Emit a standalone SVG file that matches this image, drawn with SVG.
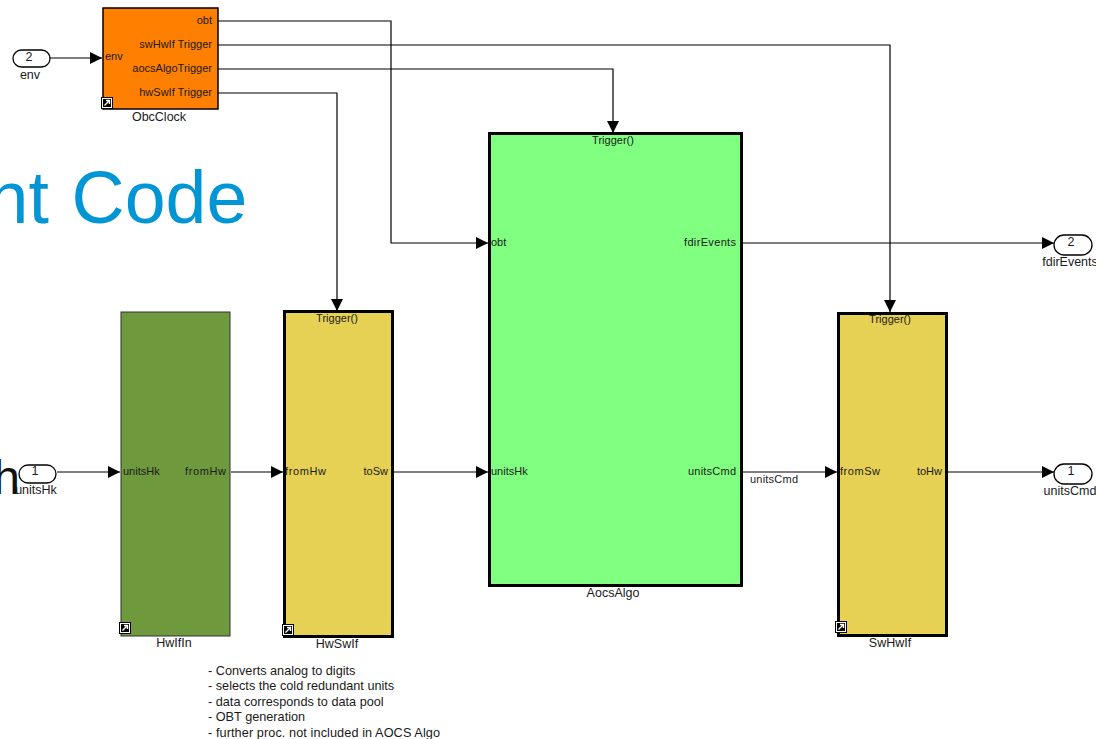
<svg xmlns="http://www.w3.org/2000/svg" width="1096" height="739" viewBox="0 0 1096 739">
<style>
text{font-family:"Liberation Sans",Arial,sans-serif;font-size:11px;fill:#1a1a1a}
.m{text-anchor:middle}.e{text-anchor:end}
.l{font-size:12.500px}
.n{font-size:12.700px}
.w{fill:none;stroke:#000;stroke-width:1.2}
.port{fill:#fff;stroke:#000;stroke-width:1.3}
.b{stroke:#000;stroke-width:3}
.t{stroke:#000;stroke-width:1.5}
.ic{fill:#fff;stroke:#000;stroke-width:1}
</style>
<defs>
<marker id="a" markerUnits="userSpaceOnUse" markerWidth="12" markerHeight="12" refX="12" refY="6" orient="auto"><path d="M0 0L12 6L0 12Z" fill="#000"/></marker>
<g id="link"><rect x="0.500" y="0.500" width="11" height="11" class="ic"/><rect x="2" y="2" width="8" height="8" fill="#000"/><path d="M3.500 8.500L8 4M5 3.500H8.500V7" stroke="#fff" stroke-width="1.400" fill="none"/></g>
</defs>
<text x="-12.500" y="222.500" style="font-size:73.500px;fill:#0096d6">nt <tspan dx="2.400">Code</tspan></text>
<text x="-6.700" y="494" style="font-size:48px;fill:#111">h</text>
<g id="connectors">
<path class="w" d="M50 58H102" marker-end="url(#a)"/>
<path class="w" d="M217 21H391V243H488" marker-end="url(#a)"/>
<path class="w" d="M217 45H890V312" marker-end="url(#a)"/>
<path class="w" d="M217 69H613V133" marker-end="url(#a)"/>
<path class="w" d="M217 93H337V311" marker-end="url(#a)"/>
<path class="w" d="M57 472H120" marker-end="url(#a)"/>
<path class="w" d="M231 472H283" marker-end="url(#a)"/>
<path class="w" d="M393 472H488" marker-end="url(#a)"/>
<path class="w" d="M742 472H837" marker-end="url(#a)"/>
<path class="w" d="M947 472H1054" marker-end="url(#a)"/>
<path class="w" d="M742 243H1054" marker-end="url(#a)"/>
<text x="750" y="483" textLength="48">unitsCmd</text>
</g>
<g id="env"><rect class="port" x="13" y="50" width="37" height="17" rx="8.500"/><text class="m l" x="29" y="61">2</text><text class="m l" x="30" y="79">env</text></g>
<g id="unitsHk"><rect class="port" x="19" y="465" width="37" height="18" rx="9"/><text class="m l" x="35" y="475">1</text><text class="m l" x="36" y="494">unitsHk</text></g>
<g id="fdirEventsOut"><rect class="port" x="1054" y="235" width="38" height="20" rx="10"/><text class="m l" x="1071" y="246">2</text><text class="m l" x="1070" y="266">fdirEvents</text></g>
<g id="unitsCmdOut"><rect class="port" x="1054" y="464" width="38" height="20" rx="10"/><text class="m l" x="1071" y="475">1</text><text class="m l" x="1070" y="495">unitsCmd</text></g>
<g id="ObcClock"><rect class="t" x="103" y="8" width="115" height="101" fill="#ff8000"/><text x="105" y="60">env</text><text class="e" x="212" y="24">obt</text><text class="e" x="212" y="48">swHwIf Trigger</text><text class="e" x="212" y="72">aocsAlgoTrigger</text><text class="e" x="212" y="96">hwSwIf Trigger</text><use href="#link" x="101" y="97"/><text class="m l" x="159" y="121">ObcClock</text></g>
<g id="HwIfIn"><rect x="121" y="312" width="109" height="324" fill="#6f993d" stroke="#333" stroke-width="1"/><text x="123" y="475">unitsHk</text><text x="185" y="475" textLength="41">fromHw</text><use href="#link" x="119" y="622"/><text class="m l" x="174" y="647">HwIfIn</text></g>
<g id="HwSwIf"><rect class="b" x="284.500" y="311.500" width="108" height="325" fill="#e6d154"/><text class="m" x="337" y="322">Trigger()</text><text x="285" y="475" textLength="41">fromHw</text><text class="e" x="388" y="475">toSw</text><use href="#link" x="282" y="624"/><text class="m l" x="337" y="648">HwSwIf</text></g>
<g id="AocsAlgo"><rect class="b" x="489.500" y="133.500" width="252" height="452" fill="#80ff80"/><text class="m" x="613" y="144">Trigger()</text><text x="491" y="246">obt</text><text x="684" y="246" textLength="52">fdirEvents</text><text x="491" y="475">unitsHk</text><text x="688" y="475" textLength="48">unitsCmd</text><text class="m l" x="613" y="597">AocsAlgo</text></g>
<g id="SwHwIf"><rect class="b" x="838.500" y="313.500" width="108" height="322" fill="#e6d154"/><text class="m" x="890" y="323">Trigger()</text><text x="840" y="475" textLength="40">fromSw</text><text class="e" x="942" y="475">toHw</text><use href="#link" x="835" y="621"/><text class="m l" x="890" y="647">SwHwIf</text></g>
<g id="note"><text class="n" x="208" y="675">- Converts analog to digits</text><text class="n" x="208" y="690">- selects the cold redundant units</text><text class="n" x="208" y="706">- data corresponds to data pool</text><text class="n" x="208" y="721">- OBT generation</text><text class="n" x="208" y="737" textLength="232">- further proc. not included in AOCS Algo</text></g>
</svg>
